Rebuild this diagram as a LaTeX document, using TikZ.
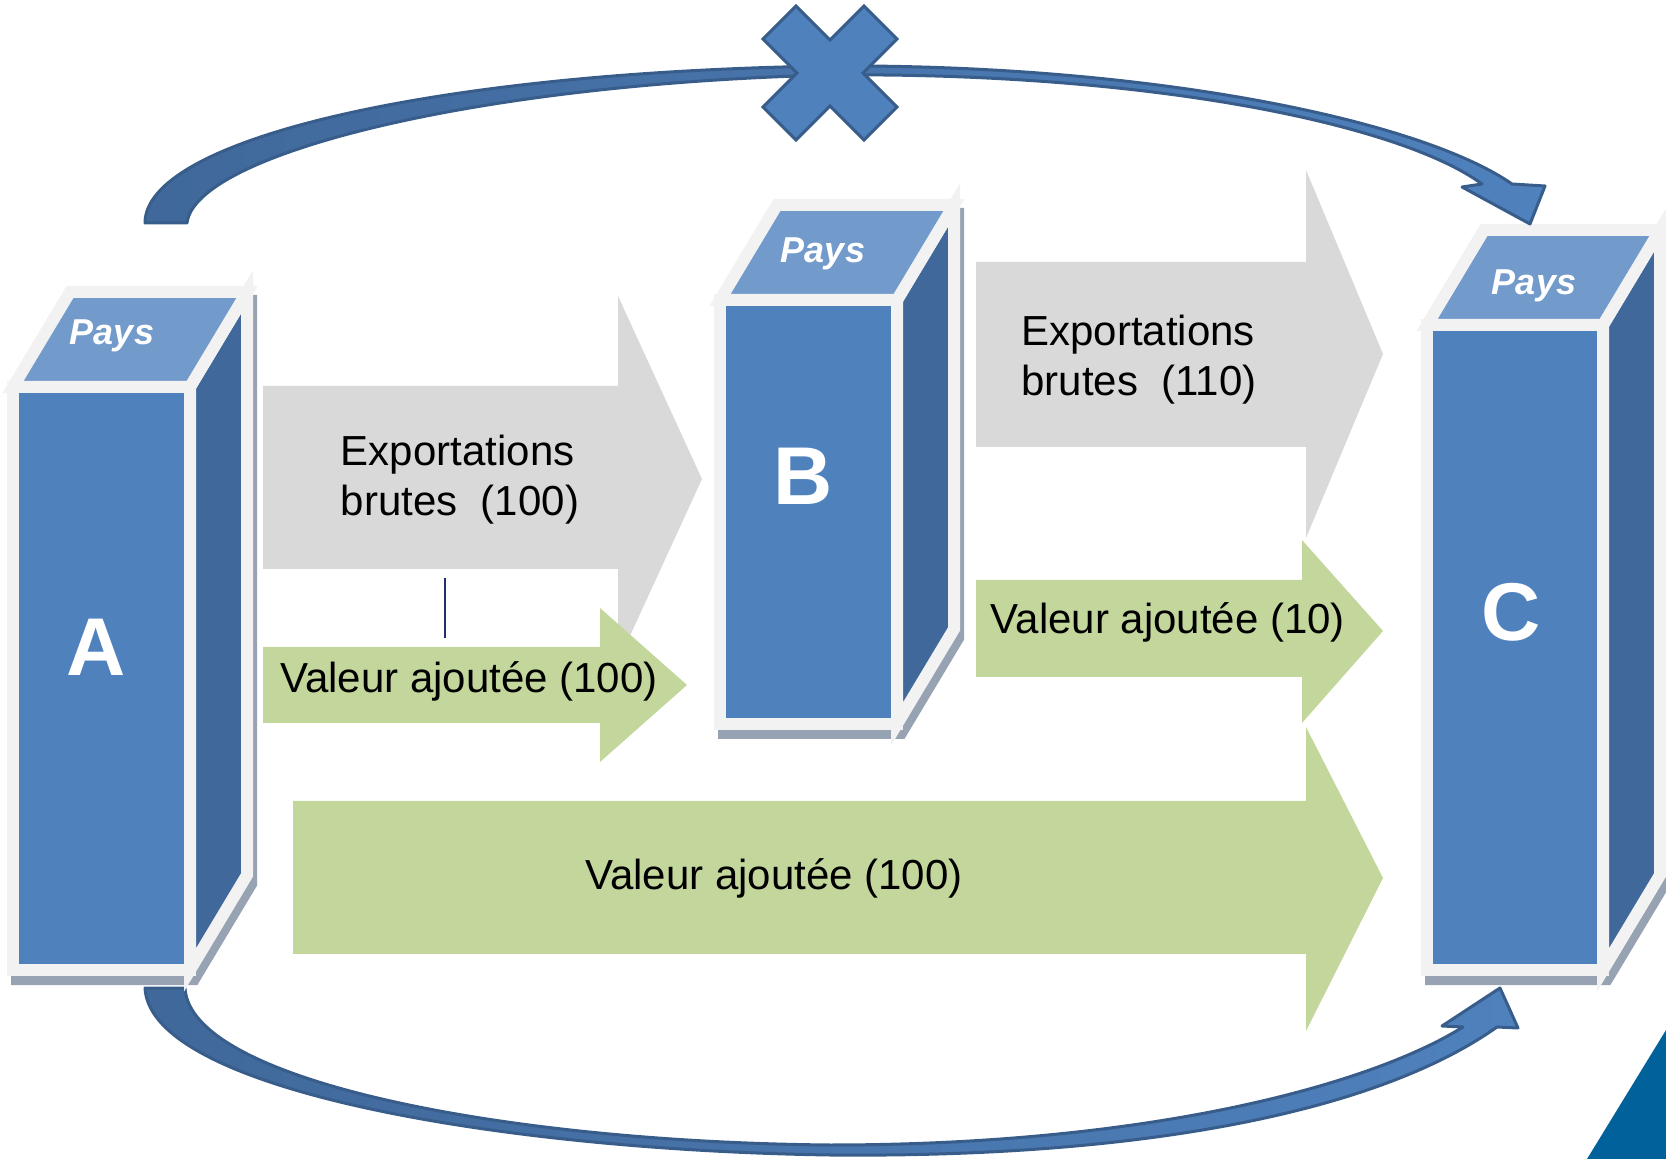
\documentclass[tikz,border=0pt]{standalone}
\usepackage{fontspec}
\setmainfont{Liberation Sans}
\usepackage{tikz}

\definecolor{paysfront}{HTML}{4F81BD}
\definecolor{paystop}{HTML}{729ACA}
\definecolor{paysside}{HTML}{40689A}
\definecolor{paysframe}{HTML}{F2F2F2}
\definecolor{paysshadow}{HTML}{97A2B3}
\definecolor{flowgrey}{HTML}{D9D9D9}
\definecolor{flowgreen}{HTML}{C3D69B}
\definecolor{arcline}{HTML}{385D8A}
\definecolor{tickline}{HTML}{1F2F6E}
\definecolor{cornerblue}{HTML}{01619B}

\begin{document}
\begin{tikzpicture}[x=0.5pt,y=-0.5pt,
	face/.style={draw=paysframe,line width=6pt},
	grossflow/.style={fill=flowgrey},
	vaflow/.style={fill=flowgreen},
	arcarrow/.style={left color=paysside,right color=paysfront,draw=arcline,line width=1.5pt,line join=round},
	flowtext/.style={font=\fontsize{21}{25}\selectfont,align=left},
	paystext/.style={font=\fontsize{18}{20}\selectfont\bfseries\itshape,text=white,anchor=base},
	lettertext/.style={font=\fontsize{41}{44}\selectfont\bfseries,text=white,anchor=base}]
	\useasboundingbox (0,0) rectangle (1666,1159);
	% lower arc A -> C
	\path[arcarrow] (145,988) .. controls (150,1090) and (500,1150) .. (830,1155)
		.. controls (1150,1158) and (1380,1110) .. (1497,1027) -- (1518,1028) -- (1500,988)
		-- (1442,1026) -- (1463,1027) .. controls (1370,1085) and (1150,1145) .. (830,1145)
		.. controls (500,1142) and (190,1080) .. (185,988) -- cycle;
	% gross exports
	\fill[grossflow] (263,386) -- (618,386) -- (618,296) -- (702,479) -- (618,662) -- (618,569) -- (263,569) -- cycle;
	\fill[grossflow] (976,262) -- (1306,262) -- (1306,170) -- (1383,354) -- (1306,538) -- (1306,447) -- (976,447) -- cycle;
	% value added
	\fill[vaflow] (263,647) -- (600,647) -- (600,608) -- (687,685) -- (600,762) -- (600,723) -- (263,723) -- cycle;
	\fill[vaflow] (976,580) -- (1302,580) -- (1302,540) -- (1383,631) -- (1302,723) -- (1302,677) -- (976,677) -- cycle;
	\fill[vaflow] (293,801) -- (1306,801) -- (1306,727) -- (1383,878) -- (1306,1031) -- (1306,954) -- (293,954) -- cycle;
	\node[flowtext] (grossAB) at (460,480) {Exportations\\brutes~ (100)};
	\node[flowtext] (grossBC) at (1139,360) {Exportations\\brutes~ (110)};
	\node[flowtext] (vaAB) at (469,681) {Valeur ajoutée (100)};
	\node[flowtext] (vaBC) at (1168,622) {Valeur ajoutée (10)};
	\node[flowtext] (vaAC) at (774,878) {Valeur ajoutée (100)};
	\draw[tickline,line width=1pt] (445,578) -- (445,638);
	% countries
	\foreach \n/\l/\r/\t/\b/\px/\py/\lx/\ly in {A/13/190/387/970/112/345/96/676,
		B/720/897/300/724/823/263/803/505, C/1427/1603/325/970/1534/295/1511/641} {
		\fill[paysshadow,draw=paysshadow,line width=6pt,shift={(4,9)}] (\l,\b) -- (\l,\t) -- (\l+57,\t-95)
			-- (\r+57,\t-95) -- (\r+57,\b-95) -- (\r,\b) -- cycle;
		\filldraw[face,fill=paysside] (\r,\t) -- (\r+57,\t-95) -- (\r+57,\b-95) -- (\r,\b) -- cycle;
		\filldraw[face,fill=paystop] (\l,\t) -- (\l+57,\t-95) -- (\r+57,\t-95) -- (\r,\t) -- cycle;
		\filldraw[face,fill=paysfront] (\l,\t) rectangle (\r,\b);
		\node[paystext] (pays\n) at (\px,\py) {Pays};
		\node[lettertext] (\n) at (\lx,\ly) {\n};
	}
	% upper arc A -> C, blocked
	\path[arcarrow] (145,223) .. controls (145,140) and (430,72) .. (830,66)
		.. controls (1150,64) and (1420,120) .. (1512,184) -- (1545,186) -- (1530,224)
		-- (1462,187) -- (1482,184) .. controls (1400,124) and (1150,72) .. (830,75)
		.. controls (470,84) and (195,155) .. (187,223) -- cycle;
	\coordinate (block) at (830,73);
	\filldraw[shift={(block)},fill=paysfront,draw=arcline,line width=1.5pt]
		(0,-33) -- (34,-67) -- (67,-34) -- (33,0) -- (67,34) -- (34,67) -- (0,33)
		-- (-34,67) -- (-67,34) -- (-33,0) -- (-67,-34) -- (-34,-67) -- cycle;
	\fill[cornerblue] (1587,1159) -- (1666,1030) -- (1666,1159) -- cycle;
\end{tikzpicture}
\end{document}
